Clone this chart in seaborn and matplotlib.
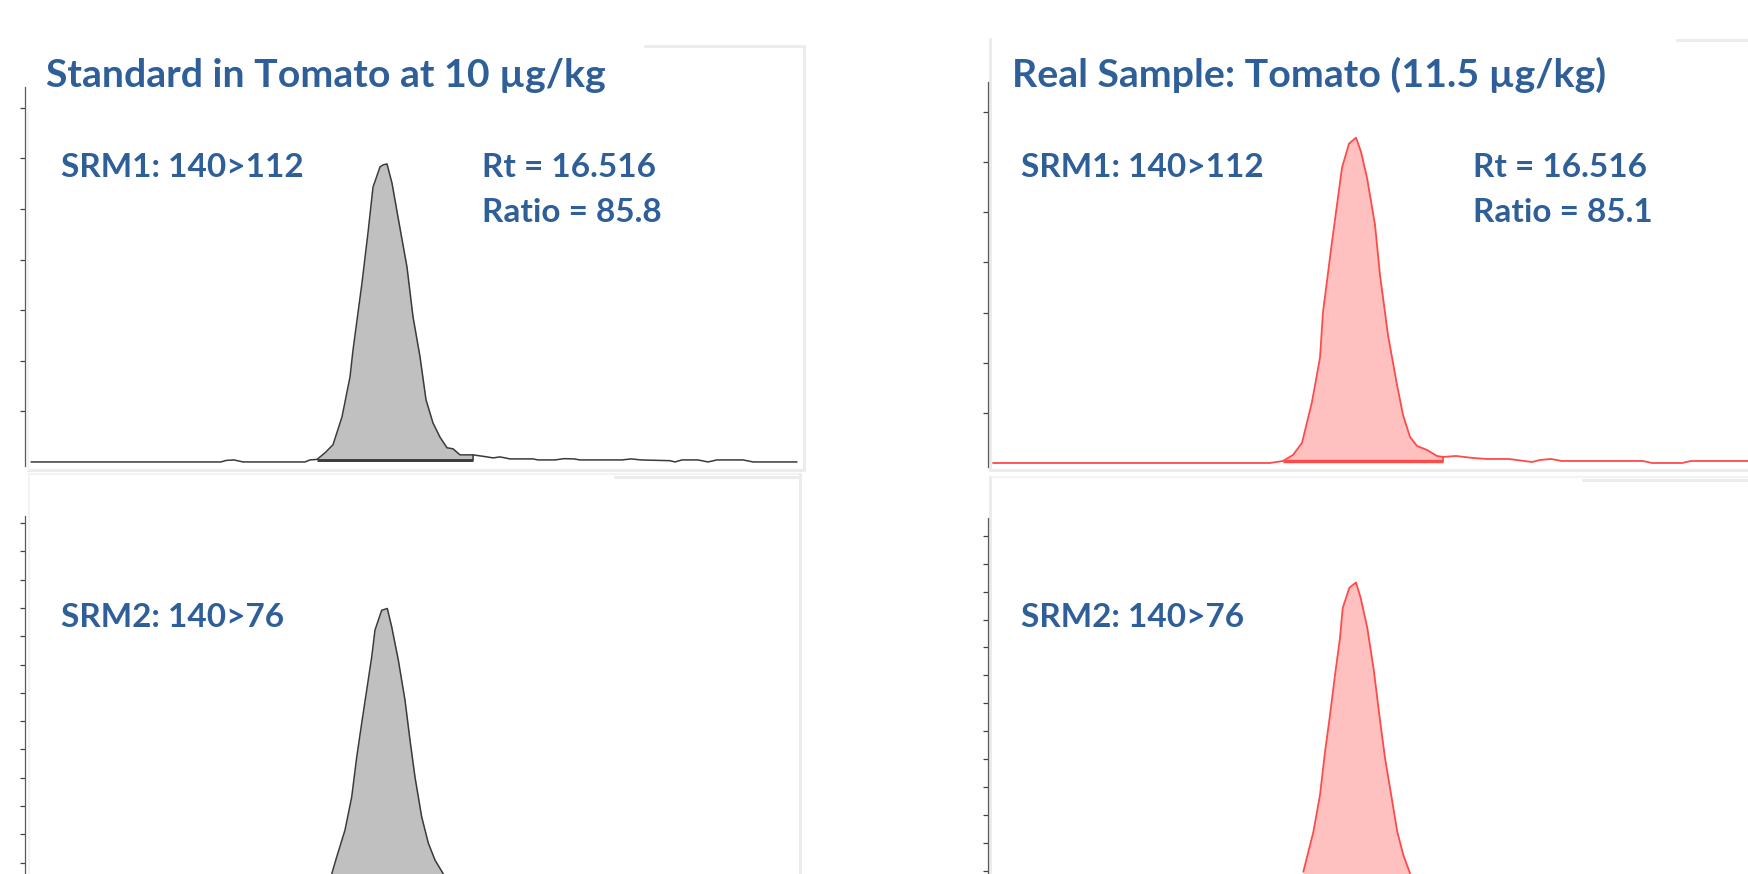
import numpy as np
import matplotlib
matplotlib.use("Agg")
import matplotlib.pyplot as plt
import seaborn as sns
from matplotlib.lines import Line2D

# ---------------- data (retention time in min, intensity in arbitrary units) ----------------
std_srm1_time = [15.626, 16.101, 16.1135, 16.1335, 16.156, 16.311, 16.3235, 16.341, 16.361, 16.381,
                 16.4035, 16.4235, 16.431, 16.4535, 16.4685, 16.481, 16.4985, 16.506, 16.516, 16.5285,
                 16.5435, 16.566, 16.581, 16.5985, 16.6135, 16.631, 16.6485, 16.666, 16.681, 16.6985,
                 16.731, 16.7485, 16.766, 16.781, 16.7985, 16.8235, 16.881, 16.8935, 16.936, 16.9585,
                 16.9835, 16.9985, 17.1035, 17.126, 17.151, 17.2235, 17.236, 17.2535, 17.2935, 17.3185,
                 17.341, 17.406, 17.431, 17.541]
std_srm1_int = [0, 0, 0.03, 0.04, 0, 0, 0.04, 0.05, 0.18, 0.34,
                0.89, 1.68, 2.21, 3.54, 4.53, 5.43, 5.83, 5.87, 5.89, 5.51,
                4.84, 3.85, 2.87, 2.08, 1.23, 0.77, 0.49, 0.28, 0.26, 0.14,
                0.14, 0.12, 0.10, 0.08, 0.10, 0.06, 0.06, 0.04, 0.04, 0.065,
                0.06, 0.04, 0.04, 0.06, 0.04, 0.025, 0, 0.04, 0.04, 0,
                0.04, 0.04, 0, 0]
std_srm1_integration = [16.341, 16.731, 0.04]

real_srm1_time = [15.6085, 16.301, 16.3335, 16.3585, 16.381, 16.406, 16.426, 16.4335, 16.456, 16.4685,
                  16.481, 16.4985, 16.516, 16.5285, 16.5435, 16.5635, 16.576, 16.596, 16.6185, 16.6335,
                  16.651, 16.6685, 16.6935, 16.7185, 16.7335, 16.766, 16.8085, 16.8435, 16.8985, 16.956,
                  16.976, 17.0035, 17.031, 17.2335, 17.256, 17.331, 17.3535, 17.526]
real_srm1_int = [0, 0, 0.04, 0.16, 0.40, 1.22, 2.10, 3.01, 4.41, 5.15,
                 5.89, 6.37, 6.49, 6.21, 5.69, 4.75, 3.75, 2.55, 1.56, 0.96,
                 0.52, 0.34, 0.26, 0.14, 0.12, 0.14, 0.10, 0.08, 0.08, 0.02,
                 0.06, 0.08, 0.04, 0.04, 0, 0, 0.04, 0.04]
real_srm1_integration = [16.3335, 16.7335, 0.03]

std_srm2_time = [16.3778, 16.3903, 16.411, 16.4278, 16.4403, 16.4528, 16.4653, 16.4778, 16.486, 16.5028,
                 16.5168, 16.5278, 16.5443, 16.561, 16.5735, 16.586, 16.6028, 16.6193, 16.636, 16.6568]
std_srm2_int = [1.10, 1.70, 2.65, 3.82, 5.23, 6.43, 7.60, 8.77, 9.72, 10.42,
                10.48, 9.83, 8.66, 7.24, 5.83, 4.52, 3.11, 2.19, 1.59, 1.10]

real_srm2_time = [16.3843, 16.4093, 16.426, 16.4385, 16.451, 16.4635, 16.476, 16.4828, 16.4993, 16.516,
                  16.5278, 16.5443, 16.561, 16.5743, 16.5885, 16.6053, 16.6193, 16.6343, 16.651]
real_srm2_int = [1.73, 3.15, 4.48, 6.02, 7.35, 8.78, 10.11, 11.18, 11.91, 12.10,
                 11.54, 10.47, 8.90, 7.35, 5.81, 4.37, 3.16, 2.33, 1.68]

top_yticks = [1, 2, 3, 4, 5, 6, 7]
std_srm2_yticks = [1.5, 2.5, 3.5, 4.5, 5.5, 6.5, 7.5, 8.5, 9.5, 10.5, 11.5, 12.5, 13.5]
real_srm2_yticks = [1.77, 2.77, 3.77, 4.77, 5.77, 6.77, 7.77, 8.77, 9.77, 10.77, 11.77, 12.77, 13.77]

titles = ["Standard in Tomato at 10 µg/kg", "Real Sample: Tomato (11.5 µg/kg)"]
srm_labels = ["SRM1: 140>112", "SRM2: 140>76"]
rt_labels = ["Rt = 16.516", "Rt = 16.516"]
ratio_labels = ["Ratio = 85.8", "Ratio = 85.1"]

# ---------------- style ----------------
sns.set_style("white")
plt.rcParams["font.family"] = ["Lato", "DejaVu Sans"]

W, H = 1748, 874
fig = plt.figure(figsize=(W / 100, H / 100), dpi=100)
fig.patch.set_facecolor("white")

def fx(px):
    return px / W

def fy(py):
    return 1 - py / H

TXT = "#2e5f98"
GRAY_LINE = "#3a3a3a"
GRAY_FILL = "#c0c0c0"
RED_LINE = "#ff4a4a"
RED_FILL = "#ffc0c0"
FRAME = "#ececec"

# panel frames (drawn first, behind transparent axes)
def fline(x0, y0, x1, y1, color=FRAME, lw=2.2):
    fig.add_artist(Line2D([fx(x0), fx(x1)], [fy(y0), fy(y1)], transform=fig.transFigure,
                          color=color, lw=lw, zorder=0))

# top-left
fline(645, 46, 804, 46)
fline(804, 46, 804, 470)
fline(28, 470, 804, 470)
fline(28, 110, 28, 470, color="#f4f4f4", lw=1.5)
# top-right
fline(1677, 40, 1750, 40)
fline(990, 39, 990, 470)
fline(990, 470, 1750, 470)
# bottom-left
fline(29, 474, 800, 474, color="#f3f3f3", lw=1.5)
fline(615, 477, 800, 477)
fline(800, 474, 800, 880)
fline(29, 474, 29, 880, color="#f3f3f3", lw=1.5)
# bottom-right
fline(990, 477, 1750, 477, color="#f3f3f3", lw=1.5)
fline(1583, 480, 1750, 480)
fline(990, 477, 990, 880)


def make_axes(l, r, t, b, xlim, ylim, yticks):
    ax = fig.add_axes([fx(l), fy(b), (r - l) / W, (b - t) / H])
    ax.set_facecolor("none")
    ax.set_xlim(*xlim)
    ax.set_ylim(*ylim)
    for s in ["top", "right", "bottom"]:
        ax.spines[s].set_visible(False)
    ax.spines["left"].set_color("#5a5a5a")
    ax.spines["left"].set_linewidth(0.9)
    ax.set_xticks([])
    ax.set_yticks(yticks)
    ax.set_yticklabels([])
    ax.tick_params(axis="y", left=True, direction="out", length=3.5, width=0.9, color="#444444")
    ax.set_xlabel("")
    ax.set_ylabel("")
    return ax


def draw_trace(ax, t, y, line_color, fill_color, integ=None, base=0.0, lw=1.1):
    t = np.asarray(t, float)
    y = np.asarray(y, float)
    if integ is not None:
        t0, t1, b = integ
        m = (t >= t0 - 1e-9) & (t <= t1 + 1e-9)
        ax.fill_between(t[m], y[m], b, color=fill_color, lw=0, zorder=1)
        ax.plot([t0, t1], [b, b], color=line_color, lw=lw * 1.9, zorder=3, solid_capstyle="butt")
        yi = y[np.argmin(np.abs(t - t1))]
        ax.plot([t1, t1], [b, yi], color=line_color, lw=lw, zorder=3)
    else:
        ax.fill_between(t, y, base, color=fill_color, lw=0, zorder=1)
    sns.lineplot(x=t, y=y, ax=ax, color=line_color, lw=lw, estimator=None, sort=False, zorder=2)


left_xlim = (15.611, 17.5485)
right_xlim = (15.596, 17.526)

ax_tl = make_axes(25, 800, 87, 466, left_xlim, (-0.08, 7.41), top_yticks)
draw_trace(ax_tl, std_srm1_time, std_srm1_int, GRAY_LINE, GRAY_FILL, std_srm1_integration)

ax_tr = make_axes(988, 1760, 82, 467, right_xlim, (-0.08, 7.60), top_yticks)
draw_trace(ax_tr, real_srm1_time, real_srm1_int, RED_LINE, RED_FILL, real_srm1_integration, lw=1.3)

ax_bl = make_axes(25, 800, 516, 909, left_xlim, (-0.14, 13.75), std_srm2_yticks)
draw_trace(ax_bl, std_srm2_time, std_srm2_int, GRAY_LINE, GRAY_FILL)

ax_br = make_axes(988, 1760, 518, 924, right_xlim, (-0.14, 14.41), real_srm2_yticks)
draw_trace(ax_br, real_srm2_time, real_srm2_int, RED_LINE, RED_FILL, lw=1.3)

# ---------------- texts ----------------
TITLE_FS = 28.3
LAB_FS = 24.0

def ftext(px, py, s, fs):
    fig.text(fx(px), fy(py), s, fontsize=fs, fontweight="bold", color=TXT,
             ha="left", va="baseline")

ftext(46, 87, titles[0], TITLE_FS)
ftext(1012, 87, titles[1], TITLE_FS)

ftext(61, 177, srm_labels[0], LAB_FS)
ftext(482, 177, rt_labels[0], LAB_FS)
ftext(482, 222, ratio_labels[0], LAB_FS)

ftext(1021, 177, srm_labels[0], LAB_FS)
ftext(1473, 177, rt_labels[1], LAB_FS)
ftext(1473, 222, ratio_labels[1], LAB_FS)

ftext(61, 627, srm_labels[1], LAB_FS)
ftext(1021, 627, srm_labels[1], LAB_FS)

fig.savefig("out.png", dpi=100, facecolor="white")
